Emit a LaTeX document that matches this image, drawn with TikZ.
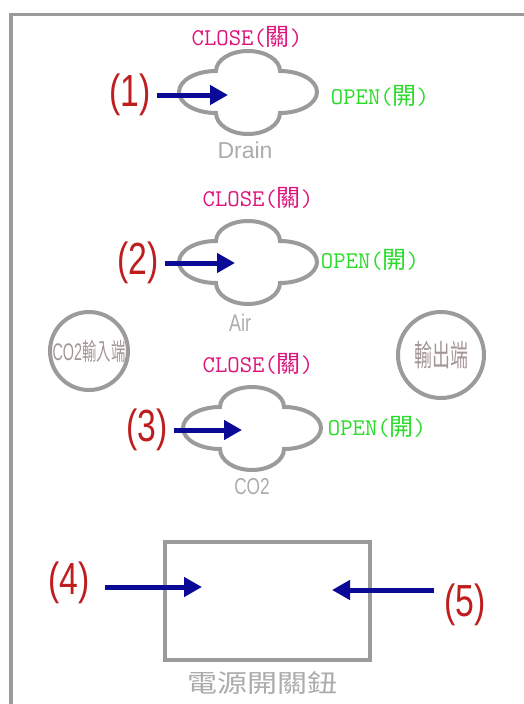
\documentclass[tikz,border=0pt]{standalone}
\usepackage{fontspec}
\setmainfont{Liberation Sans}
\newfontfamily\cjk{Noto Sans CJK TC}
\newfontfamily\cjkcond[FakeStretch=0.6]{Noto Sans CJK TC}
\newfontfamily\cjkwide[FakeStretch=1.2]{Noto Sans CJK TC}
\newfontfamily\condfont[FakeStretch=0.75]{Liberation Sans}
\newfontfamily\narrowfont[FakeStretch=0.6]{Liberation Sans}
\usetikzlibrary{arrows.meta}
\definecolor{linegray}{RGB}{155,155,155}
\definecolor{namegray}{RGB}{172,172,172}
\definecolor{portgray}{RGB}{165,150,150}
\definecolor{closecol}{RGB}{222,20,122}
\definecolor{opencol}{RGB}{40,220,40}
\definecolor{numred}{RGB}{190,30,30}
\definecolor{arrblue}{RGB}{10,10,150}
\tikzset{
  frameline/.style={draw=linegray,line width=3.5pt},
  cloudline/.style={draw=linegray,line width=4pt},
  valve/.pic={
    \draw[cloudline] (-32,-22)
      arc[start angle=180,end angle=360,x radius=32,y radius=20]
      arc[start angle=270,end angle=450,x radius=37,y radius=21]
      arc[start angle=0,end angle=180,x radius=32,y radius=21]
      arc[start angle=90,end angle=270,x radius=37,y radius=21] -- cycle;
  },
  closetxt/.style={text=closecol,font=\fontsize{24}{24}\selectfont\ttfamily},
  opentxt/.style={text=opencol,font=\fontsize{24}{24}\selectfont\ttfamily},
  numtxt/.style={text=numred,font=\fontsize{45}{45}\selectfont\condfont,inner sep=2pt},
  nametxt/.style={text=namegray,font=\fontsize{23}{23}\selectfont},
  port/.style={circle,draw=linegray,line width=4pt,text=portgray,inner sep=0pt},
  arr/.style={draw=arrblue,line width=5pt,-{Triangle[length=18pt,width=19pt]},shorten <=4pt}
}
\begin{document}
\begin{tikzpicture}[x=1pt,y=-1pt]
\useasboundingbox (0,0) rectangle (524,704);
\fill[white] (0,0) rectangle (524,704);
\draw[frameline] (11,704) -- (11,14.5) -- (524,14.5);
% drain valve
\pic at (248,93) {valve};
\node[closetxt] (close1) at (247,37) {CLOSE({\cjk 關})};
\node[opentxt] (open1) at (380,96) {OPEN({\cjk 開})};
\node[nametxt] (drain) at (245,150) {Drain};
\node[numtxt] (n1) at (130,95) {(1)};
\coordinate (t1) at (228,95);
\draw[arr] (n1) -- (t1);
% air valve
\pic at (248,263) {valve};
\node[closetxt] (close2) at (258,198) {CLOSE({\cjk 關})};
\node[opentxt] (open2) at (370,260) {OPEN({\cjk 開})};
\node[nametxt,font=\fontsize{24}{24}\selectfont\condfont] (air) at (240,323) {Air};
\node[numtxt] (n2) at (138,263) {(2)};
\coordinate (t2) at (235,263);
\draw[arr] (n2) -- (t2);
% co2 valve
\pic at (252,429) {valve};
\node[closetxt] (close3) at (258,364) {CLOSE({\cjk 關})};
\node[opentxt] (open3) at (377,427) {OPEN({\cjk 開})};
\node[nametxt,font=\fontsize{23}{23}\selectfont\condfont] (co2) at (252,487) {CO2};
\node[numtxt] (n3) at (147,430) {(3)};
\coordinate (t3) at (242,430);
\draw[arr] (n3) -- (t3);
% ports
\node[port,minimum size=78pt,font=\fontsize{24}{24}\selectfont] (inport) at (89,351)
  {{\narrowfont CO2}{\cjkcond 輸入端}};
\node[port,minimum size=86pt,font=\fontsize{30}{30}\selectfont\cjkcond] (outport) at (441,355) {輸出端};
% power switch
\node[draw=linegray,line width=4pt,minimum width=205pt,minimum height=118pt] (power) at (267.5,601) {};
\node[text=namegray,font=\fontsize{25}{25}\selectfont\cjkwide] (powername) at (262,683) {電源開關鈕};
\node[numtxt] (n4) at (69,583) {(4)};
\coordinate (t4) at (202,587);
\draw[arr,shorten <=13pt] (t4 -| n4.east) -- (t4);
\node[numtxt] (n5) at (465,605) {(5)};
\coordinate (t5) at (332,590);
\draw[arr,shorten <=8pt] (t5 -| n5.west) -- (t5);
\end{tikzpicture}
\end{document}
